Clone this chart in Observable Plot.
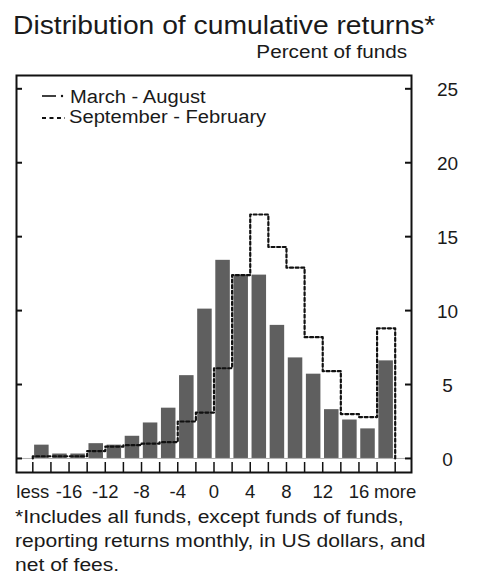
<!DOCTYPE html>
<html>
<head>
<meta charset="utf-8">
<script src="https://cdn.jsdelivr.net/npm/d3@7"></script>
<script src="https://cdn.jsdelivr.net/npm/@observablehq/plot@0.6"></script>
<style>
  html, body { margin: 0; padding: 0; background: #fff; }
  #wrap { position: relative; width: 482px; height: 577px; overflow: hidden; background: #fff;
          font-family: "Liberation Sans", Arial, sans-serif; color: #1a1a1a; }
  #chart { position: absolute; left: 0; top: 0; }
  .t { position: absolute; white-space: nowrap; }
  #title { left: 13px; top: 10px; font-size: 25px; line-height: 30px; transform: scaleX(1.13); transform-origin: 0 0; }
  #unit { right: 75px; top: 42px; font-size: 18px; line-height: 20px; transform: scaleX(1.15); transform-origin: 100% 0; }
  .leg { left: 70px; font-size: 18px; line-height: 20px; transform: scaleX(1.12); transform-origin: 0 0; }
  #caption { left: 15px; top: 505px; font-size: 18px; line-height: 24px; transform: scaleX(1.17); transform-origin: 0 0; }
  .sw { position: absolute; }
</style>
</head>
<body>
<div id="wrap">
  <div id="chart"></div>
  <div class="t" id="title"></div>
  <div class="t" id="unit"></div>
  <svg class="sw" style="left:38px;top:86px" width="32" height="44"></svg>
  <div class="t leg" id="leg1" style="top:87px"></div>
  <div class="t leg" id="leg2" style="top:107px;left:69px"></div>
  <div class="t" id="caption"></div>
</div>
<script>
// ---- data ----
const binStart = [-20, -18, -16, -14, -12, -10, -8, -6, -4, -2, 0, 2, 4, 6, 8, 10, 12, 14, 16, 18];
const binEnd   = [-18, -16, -14, -12, -10, -8, -6, -4, -2, 0, 2, 4, 6, 8, 10, 12, 14, 16, 18, 20];
const marchAugust   = [0.9, 0.3, 0.3, 1.0, 0.9, 1.5, 2.4, 3.4, 5.6, 10.1, 13.4, 12.4, 12.4, 9.0, 6.8, 5.7, 3.3, 2.6, 2.0, 6.6];
const septemberFebruary = [0.15, 0.15, 0.15, 0.5, 0.8, 0.9, 1.0, 1.1, 2.5, 3.1, 6.1, 12.4, 16.5, 14.3, 12.9, 8.2, 5.9, 3.0, 2.8, 8.8];
const xTickValues = [-20, -16, -12, -8, -4, 0, 4, 8, 12, 16, 20];
const xTickLabels = ["less", "-16", "-12", "-8", "-4", "0", "4", "8", "12", "16", "more"];
const xEdgeTicks = [-20, -18, -16, -14, -12, -10, -8, -6, -4, -2, 0, 2, 4, 6, 8, 10, 12, 14, 16, 18, 20];
const yTicks = [0, 5, 10, 15, 20, 25];
const titleText = "Distribution of cumulative returns*";
const unitText = "Percent of funds";
const seriesNames = ["March - August", "September - February"];
const captionLines = ["*Includes all funds, except funds of funds,", "reporting returns monthly, in US dollars, and", "net of fees."];

// ---- tables built from arrays ----
const bars = binStart.map((s, i) => ({lo: s, hi: binEnd[i], v: marchAugust[i]}));
const stepPts = [{x: binStart[0], y: 0}]
  .concat(binStart.map((s, i) => ({x: s, y: septemberFebruary[i]})))
  .concat([{x: binEnd[binEnd.length - 1], y: septemberFebruary[septemberFebruary.length - 1]},
           {x: binEnd[binEnd.length - 1], y: 0}]);
const xLabels = xTickValues.map((v, i) => ({v, label: xTickLabels[i]}));

const W = 482, H = 577;
const mL = 16, mR = 71, mT = 75, mB = 105;
const frameW = W - mL - mR, frameH = H - mT - mB;

const chart = Plot.plot({
  width: W, height: H,
  marginLeft: mL, marginRight: mR, marginTop: mT, marginBottom: mB,
  x: {domain: [-21.8, 21.8], axis: null},
  y: {domain: [-0.95, 25.9], axis: null},
  style: {fontFamily: "'Liberation Sans', Arial, sans-serif", background: "transparent", color: "#1a1a1a", overflow: "visible"},
  marks: [
    Plot.ruleY([0], {stroke: "#b0b0b0", strokeWidth: 1, insetLeft: 6, insetRight: 6}),
    Plot.rect(bars, {x1: "lo", x2: "hi", y1: () => 0, y2: "v", fill: "#5f5f5f", insetLeft: 1.8, insetRight: 1.8}),
    Plot.line(stepPts, {x: "x", y: "y", curve: "step-after", stroke: "#111", strokeWidth: 2.2, strokeDasharray: "3,2.6"}),
    Plot.frame({stroke: "#111", strokeWidth: 2}),
    Plot.tickY(yTicks, {y: d => d, stroke: "#111", strokeWidth: 2, insetRight: frameW - 6}),
    Plot.tickY(yTicks, {y: d => d, stroke: "#111", strokeWidth: 2, insetLeft: frameW - 6}),
    Plot.tickX(xEdgeTicks, {x: d => d, stroke: "#111", strokeWidth: 1.5, insetTop: frameH - 10}),
    Plot.text(yTicks, {y: d => d, text: d => String(d), frameAnchor: "right", dx: 36, dy: 1, textAnchor: "middle", fontSize: 19, fill: "#1a1a1a"}),
    Plot.text(xLabels, {x: "v", text: "label", frameAnchor: "bottom", dy: 20, lineAnchor: "middle", textAnchor: "middle", fontSize: 18.5, fill: "#1a1a1a"})
  ]
});
document.getElementById("chart").appendChild(chart);

document.getElementById("title").textContent = titleText;
document.getElementById("unit").textContent = unitText;
document.getElementById("leg1").textContent = seriesNames[0];
document.getElementById("leg2").textContent = seriesNames[1];
document.getElementById("caption").innerHTML = captionLines.map(l => `<div>${l}</div>`).join("");

// legend swatches
const sw = d3.select("svg.sw");
sw.append("line").attr("x1", 4).attr("x2", 18).attr("y1", 10).attr("y2", 10).attr("stroke", "#111").attr("stroke-width", 1.6);
sw.append("circle").attr("cx", 24).attr("cy", 10).attr("r", 1.2).attr("fill", "#111");
sw.append("line").attr("x1", 4).attr("x2", 27).attr("y1", 32).attr("y2", 32).attr("stroke", "#111").attr("stroke-width", 2.2).attr("stroke-dasharray", "4,3.5");
</script>
</body>
</html>
